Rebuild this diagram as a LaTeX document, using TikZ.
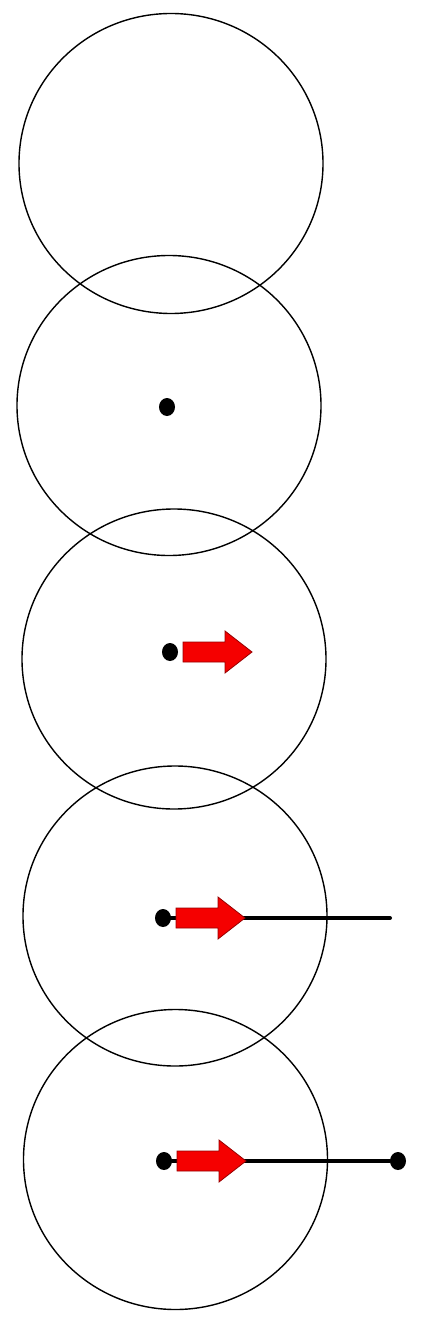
\documentclass[tikz,border=0pt]{standalone}
\usetikzlibrary{shapes.geometric}
\definecolor{pushred}{RGB}{245,0,0}
\definecolor{pushedge}{RGB}{150,0,0}

\begin{document}
\begin{tikzpicture}[x=1pt,y=-1pt,
ring/.style={draw,line width=1.4pt},
mass/.style={ellipse,fill=black,inner sep=0pt,minimum width=16pt,minimum height=18pt},
rod/.style={line width=4pt,line cap=round},
push/.pic={\draw[fill=pushred,draw=pushedge,line width=0.8pt]
  (0,-10) -- (42,-10) -- (42,-21) -- (69,0) -- (42,21) -- (42,10) -- (0,10) -- cycle;}]
\useasboundingbox (0,0) rectangle (434,1332);
% five frames
\foreach \cx/\cy in {171/163.5,169/405.5,174/659,175/916,175.5/1159.5}
  \draw[ring] (\cx,\cy) ellipse [x radius=152,y radius=150];
% frame 2
\node[mass] (m2) at (167,407) {};
% frame 3
\node[mass] (m3) at (170,652) {};
\pic at (183,652) {push};
% frame 4
\node[mass] (m4) at (163,918) {};
\coordinate (e4) at (390,918);
\draw[rod] (m4.center) -- (e4);
\pic at (176,918) {push};
% frame 5
\node[mass] (m5) at (164,1161) {};
\node[mass] (n5) at (398,1161) {};
\draw[rod] (m5) -- (n5);
\pic at (177,1161) {push};
\end{tikzpicture}
\end{document}
